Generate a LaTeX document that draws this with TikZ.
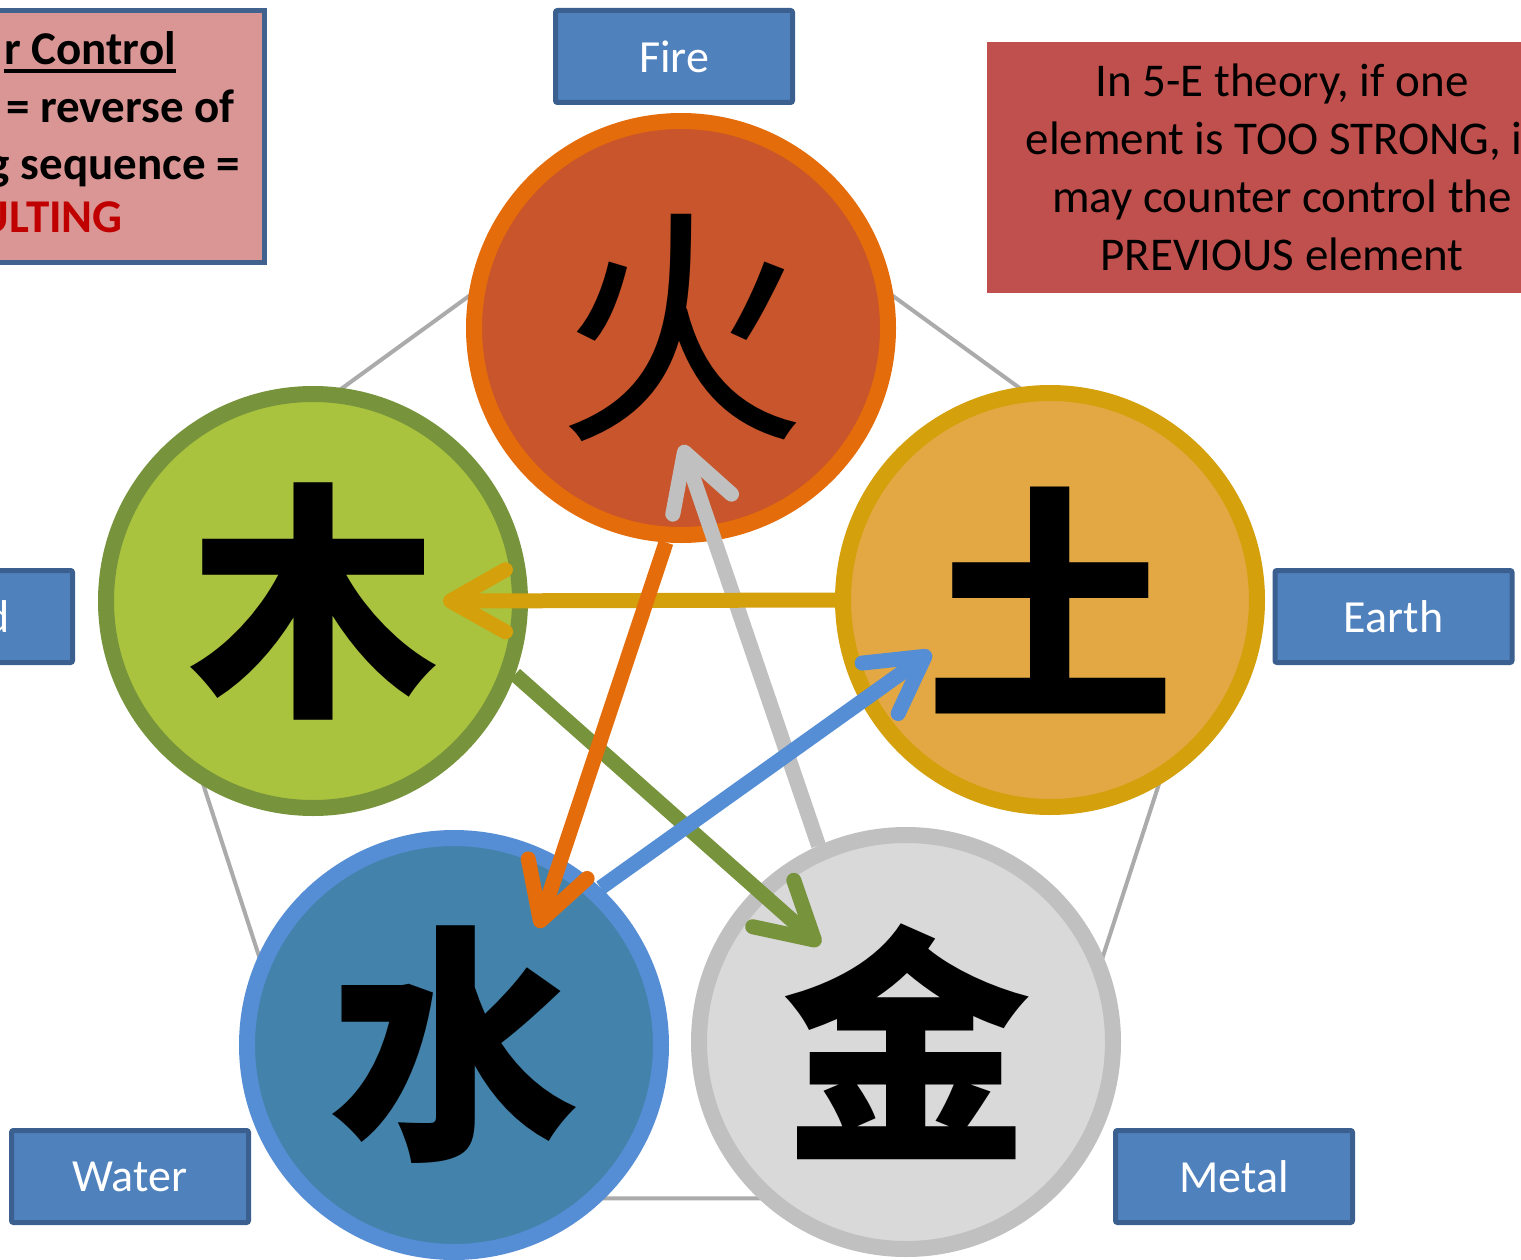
\documentclass[tikz,border=0pt]{standalone}
\usepackage{fontspec}
\setmainfont{Carlito}
\newfontfamily\cjk{Noto Sans CJK SC}
\usetikzlibrary{arrows.meta,shapes.geometric}

\definecolor{firefill}{HTML}{C8552B}
\definecolor{fireline}{HTML}{E46C0A}
\definecolor{woodfill}{HTML}{A9C33F}
\definecolor{woodline}{HTML}{77933C}
\definecolor{earthfill}{HTML}{E3A843}
\definecolor{earthline}{HTML}{D4A00B}
\definecolor{waterfill}{HTML}{4383AB}
\definecolor{waterline}{HTML}{568ED6}
\definecolor{metalfill}{HTML}{D9D9D9}
\definecolor{metalline}{HTML}{C0C0C0}
\definecolor{boxblue}{HTML}{4F81BD}
\definecolor{boxedge}{HTML}{3B6090}
\definecolor{notered}{HTML}{C0504D}
\definecolor{notepink}{HTML}{D99694}
\definecolor{noteedge}{HTML}{41618F}
\definecolor{insult}{HTML}{C00000}
\definecolor{cyclegray}{HTML}{ABABAB}

% thick underline for the heading
\newcommand\heavyul[1]{\vtop{\hbox{#1}\kern4pt\hrule height 4pt}}

\tikzset{
  elem/.style={circle, draw, line width=16pt, minimum size=414pt, inner sep=0pt,
    font=\cjk\bfseries\fontsize{250}{250}\selectfont},
  namebox/.style={draw=boxedge, fill=boxblue, line width=5pt, rounded corners=2pt,
    minimum width=237pt, minimum height=92pt, text=white,
    font=\fontsize{46}{50}\selectfont},
  notetext/.style={inner sep=0pt, anchor=base east,
    font=\bfseries\fontsize{47}{57}\selectfont},
  flow/.style={line width=15pt, -{Straight Barb[length=55pt,width=62pt,round]}},
}

\begin{document}
\begin{tikzpicture}[x=1pt,y=-1pt]
  \useasboundingbox (0,0) rectangle (1521,1260);
  \clip (0,0) rectangle (1521,1260);
  \fill[white] (0,0) rectangle (1521,1260);

  % generating cycle behind the elements
  \node[regular polygon, regular polygon sides=5, minimum size=1168pt,
    inner sep=0pt, draw=cyclegray, line width=4pt] (cycle) at (681,726) {};

  \node[elem, draw=fireline, fill=firefill,
    font=\cjk\fontsize{250}{250}\selectfont] at (681,328) (fire) {火};
  \node[elem, draw=woodline, fill=woodfill] at (313,601) (wood) {木};
  \node[elem, draw=earthline, fill=earthfill] at (1050,600) (earth) {土};
  \node[elem, draw=waterline, fill=waterfill] at (454,1045) (water) {水};
  \node[elem, draw=metalline, fill=metalfill] at (906,1042) (metal) {金};

  % controlling sequence reversed
  \draw[flow, draw=metalline] (metal.114) -- ([shift={(1,117)}]fire.center);
  \draw[flow, draw=woodline] (wood.340) -- ([shift={(-86,-97)}]metal.center);
  \draw[flow, draw=earthline] (earth.west) -- ([shift={(130,0)}]wood.center);
  \draw[flow, draw=fireline] (fire.266) -- ([shift={(84,-117)}]water.center);
  \draw[flow, draw=waterline] (water.47) -- ([shift={(-119,52)}]earth.center);

  \node[namebox] at (674,56.5) (firelbl) {Fire};
  \node[namebox] at (1393.5,616.5) (earthlbl) {Earth};
  \node[namebox] at (1234,1176.5) (metallbl) {Metal};
  \node[namebox] at (130,1176.5) (waterlbl) {Water};
  \node[namebox] at (-46,616.5) (woodlbl) {Wood};

  \node[fill=notered, minimum width=590pt, minimum height=251pt, align=center,
    font=\fontsize{47}{58}\selectfont] at (1282,167.5) (rule)
    {In 5-E theory, if one\\element is TOO STRONG, it\\may counter control the\\PREVIOUS element};

  \node[draw=noteedge, fill=notepink, line width=5pt, minimum width=564.5pt,
    minimum height=252pt] at (-17.75,136.5) (insulting) {};
  \node[notetext] at (176,65) (ctrlhead) {\heavyul{r Control}};
  \node[notetext] at (235,123) (reverse) {= reverse of};
  \node[notetext] at (240,180) (sequence) {g sequence =};
  \node[notetext, text=insult] at (123,233) (insultword) {ULTING};
\end{tikzpicture}
\end{document}
